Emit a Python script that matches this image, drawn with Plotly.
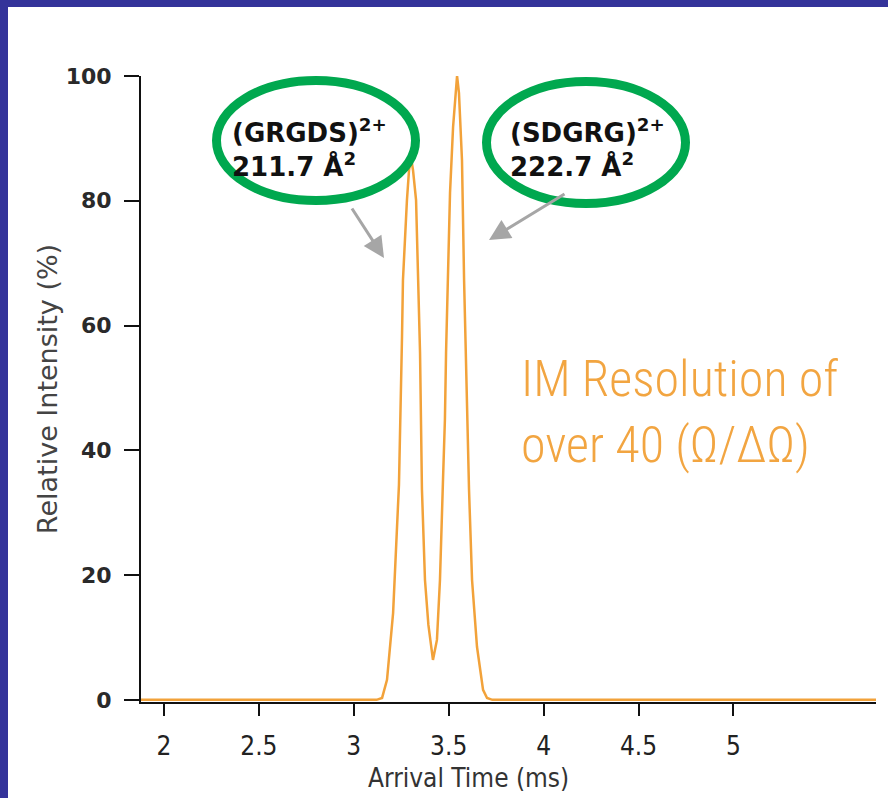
import plotly.graph_objects as go

# ---- data ----
arrival_time = [1.879, 3.12, 3.149, 3.175, 3.207, 3.238, 3.254, 3.259, 3.280, 3.291, 3.301,
                3.312, 3.328, 3.338, 3.349, 3.359, 3.375, 3.393, 3.417, 3.438, 3.454,
                3.470, 3.480, 3.486, 3.496, 3.507, 3.523, 3.544, 3.554, 3.570, 3.581,
                3.596, 3.607, 3.623, 3.649, 3.681, 3.702, 3.73, 5.751]
intensity = [0, 0, 0.3, 3.2, 13.9, 34.5, 58.2, 67.3, 80.1, 84.9, 87.0,
             84.9, 80.1, 67.3, 55.6, 33.7, 19.2, 12.0, 6.4, 9.6, 19.2,
             35.3, 44.9, 55.6, 67.3, 81.3, 91.8, 100.0, 97.3, 86.5, 67.3,
             47.6, 33.7, 19.2, 8.5, 1.6, 0.3, 0, 0]

x_tickvals = [2, 2.5, 3, 3.5, 4, 4.5, 5]
x_ticktext = ["2", "2.5", "3", "3.5", "4", "4.5", "5"]
y_tickvals = [0, 20, 40, 60, 80, 100]

x_title = "Arrival Time (ms)"
y_title = "Relative Intensity (%)"
label_left = "(GRGDS)<sup>2+</sup><br>211.7 Å<sup>2</sup>"
label_right = "(SDGRG)<sup>2+</sup><br>222.7 Å<sup>2</sup>"
note_lines = ["IM Resolution of", "over 40 (Ω/ΔΩ)"]

# ---- layout geometry (pixels) ----
W, H = 888, 798
L, R, T, B = 141, 12, 76, 96
PW, PH = W - L - R, H - T - B


def px(x):
    return (x - L) / PW


def py(y):
    return (H - B - y) / PH


fig = go.Figure()
fig.add_trace(go.Scatter(
    x=arrival_time, y=intensity, mode="lines",
    line=dict(color="#F2A23A", width=2.5),
    hoverinfo="skip", showlegend=False,
))

narrow = "Roboto Condensed, DejaVu Sans Condensed, sans-serif"

fig.update_layout(
    width=W, height=H,
    margin=dict(l=L, r=R, t=T, b=B, pad=0),
    paper_bgcolor="white", plot_bgcolor="white",
    showlegend=False,
    xaxis=dict(
        range=[1.879, 5.751], tickvals=x_tickvals, ticktext=x_ticktext,
        showgrid=False, zeroline=False, showline=True, linecolor="#111", linewidth=2,
        ticks="outside", ticklen=12, tickwidth=2, tickcolor="#111", ticklabelstandoff=8,
        tickfont=dict(family="DejaVu Sans Condensed", size=26, color="#222"),
    ),
    yaxis=dict(
        range=[-0.35, 100], tickvals=y_tickvals,
        showgrid=False, zeroline=False, showline=True, linecolor="#111", linewidth=2,
        ticks="outside", ticklen=15, tickwidth=2, tickcolor="#111", ticklabelstandoff=8,
        tickfont=dict(family="DejaVu Sans", size=22, color="#2a2a2a", weight="bold"),
        title=dict(text=y_title, font=dict(family="DejaVu Sans", size=27, color="#444"), standoff=0),
    ),
)

shapes = [
    # purple frame (left and top)
    dict(type="rect", xref="paper", yref="paper", x0=px(0), x1=px(8), y0=py(H), y1=py(0),
         fillcolor="#34339A", line=dict(width=0), layer="above"),
    dict(type="rect", xref="paper", yref="paper", x0=px(0), x1=px(W), y0=py(7), y1=py(0),
         fillcolor="#34339A", line=dict(width=0), layer="above"),
    # green ellipses
    dict(type="circle", xref="paper", yref="paper", x0=px(216.5), x1=px(415.5), y0=py(200.5), y1=py(80.5),
         line=dict(color="#00A84F", width=9), layer="above"),
    dict(type="circle", xref="paper", yref="paper", x0=px(486.5), x1=px(685.5), y0=py(203.5), y1=py(81.5),
         line=dict(color="#00A84F", width=9), layer="above"),
]
fig.update_layout(shapes=shapes)

ann = [
    dict(xref="paper", yref="paper", x=px(468), y=py(778), xanchor="center", yanchor="middle",
         text=x_title, showarrow=False,
         font=dict(family="DejaVu Sans Condensed", size=26, color="#333")),
    dict(xref="paper", yref="paper", x=px(230), y=py(148), xanchor="left", yanchor="middle",
         text=label_left, showarrow=False, align="left",
         font=dict(family="DejaVu Sans", size=26, color="#111", weight="bold")),
    dict(xref="paper", yref="paper", x=px(508), y=py(148), xanchor="left", yanchor="middle",
         text=label_right, showarrow=False, align="left",
         font=dict(family="DejaVu Sans", size=26, color="#111", weight="bold")),
    dict(xref="paper", yref="paper", x=px(519), y=py(379), xanchor="left", yanchor="middle",
         text=note_lines[0], showarrow=False,
         font=dict(family=narrow, size=50, color="#F2A541", weight=300)),
    dict(xref="paper", yref="paper", x=px(519), y=py(445), xanchor="left", yanchor="middle",
         text=note_lines[1], showarrow=False,
         font=dict(family=narrow, size=50, color="#F2A541", weight=300)),
    # grey arrows
    dict(xref="paper", yref="paper", x=px(384), y=py(258), ax=351 - 384, ay=207 - 258,
         text="", showarrow=True, arrowhead=2, arrowsize=1.4, arrowwidth=3, arrowcolor="#A6A6A6", standoff=0),
    dict(xref="paper", yref="paper", x=px(489), y=py(240), ax=566 - 489, ay=193 - 240,
         text="", showarrow=True, arrowhead=2, arrowsize=1.4, arrowwidth=3, arrowcolor="#A6A6A6", standoff=0),
]
fig.update_layout(annotations=ann)

fig.write_html("out.html", config={"displayModeBar": False},
               post_script="document.body.style.margin='0';")
